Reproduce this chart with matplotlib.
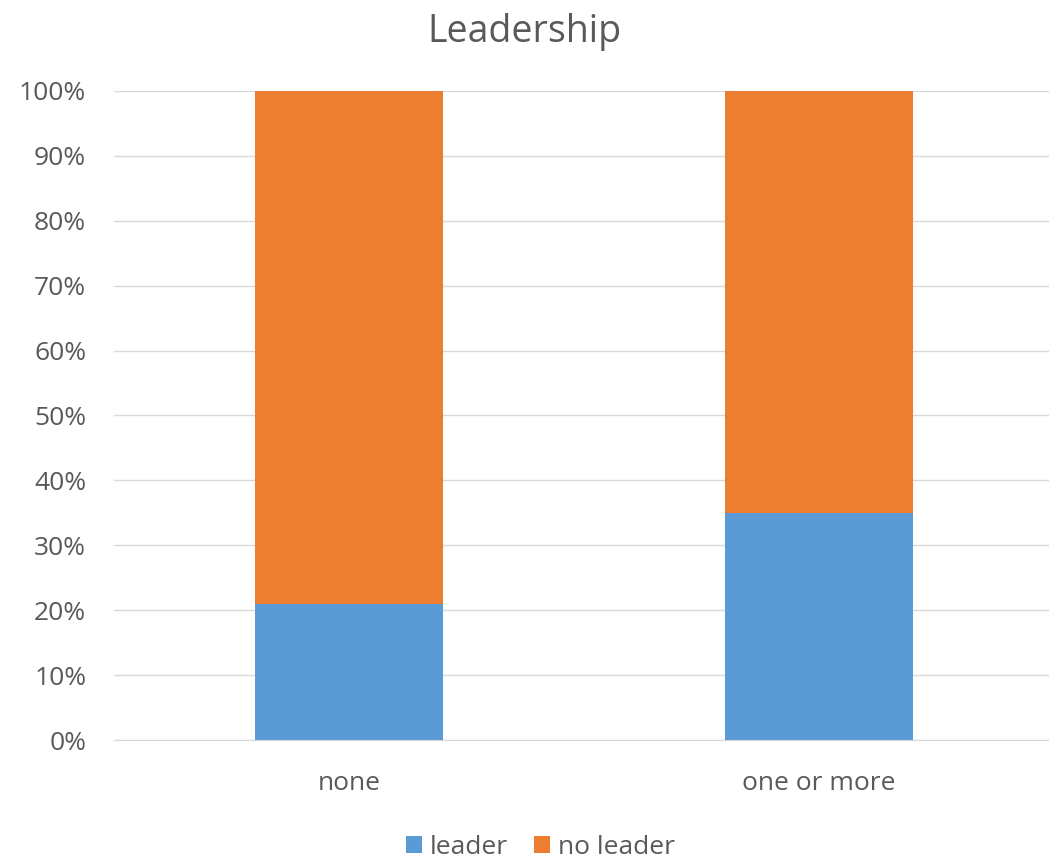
import numpy as np
import matplotlib.pyplot as plt
from matplotlib.ticker import PercentFormatter

# Data
categories = ['none', 'one or more']
leader = [0.21, 0.35]
no_leader = [0.79, 0.65]

blue = '#5B9BD5'
orange = '#ED7D31'
text_color = '#595959'

plt.rcParams['font.family'] = ['Open Sans', 'DejaVu Sans']

fig = plt.figure(figsize=(10.49, 8.58), dpi=100)
ax = fig.add_axes([0.1087, 0.1375, 0.896, 0.7565])

x = np.arange(len(categories))
ax.bar(x, leader, width=0.4, color=blue, label='leader', zorder=3)
ax.bar(x, no_leader, width=0.4, bottom=leader, color=orange, label='no leader', zorder=3)

ax.set_xlim(-0.5, 1.5)
ax.set_ylim(0, 1)
ax.set_yticks(np.arange(0, 1.01, 0.1))
ax.yaxis.set_major_formatter(PercentFormatter(1.0, decimals=0))
ax.set_xticks(x)
ax.set_xticklabels(categories)
ax.tick_params(axis='both', length=0, labelsize=19, colors=text_color)
ax.tick_params(axis='y', pad=20)
ax.tick_params(axis='x', pad=22)
ax.grid(axis='y', color='#D9D9D9', linewidth=1, zorder=0)
for s in ['top', 'right', 'left']:
    ax.spines[s].set_visible(False)
ax.spines['bottom'].set_color('#D9D9D9')

fig.suptitle('Leadership', fontsize=27, color=text_color, y=0.985)
fig.legend(loc='lower center', ncol=2, frameon=False, fontsize=19,
           labelcolor=text_color, handlelength=0.6, handleheight=0.6,
           handletextpad=0.3, columnspacing=1.0, bbox_to_anchor=(0.515, -0.03))

fig.savefig('out.png', dpi=100)
